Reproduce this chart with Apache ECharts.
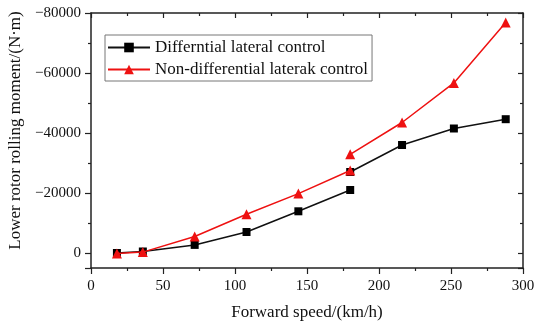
<!DOCTYPE html>
<html>
<head>
<meta charset="utf-8">
<script src="https://cdn.jsdelivr.net/npm/echarts@6/dist/echarts.min.js"></script>
<style>
  html, body { margin: 0; padding: 0; background: #fff; }
  #chart { width: 549px; height: 323px; }
</style>
</head>
<body>
<div id="chart"></div>
<script>
// Forward speed (km/h) and lower rotor rolling moment (N·m).
// A null breaks each line at 180 km/h, where both series have two points.
const diffSpeed = [18, 36, 72, 108, 144, 180, null, 180, 216, 252, 288];
const diffMoment = [0, -500, -2700, -7000, -13900, -21000, null, -27000, -36000, -41500, -44600];
const nonDiffSpeed = [18, 36, 72, 108, 144, 180, null, 180, 216, 252, 288];
const nonDiffMoment = [200, -300, -5500, -12900, -19800, -27500, null, -32900, -43500, -56700, -76800];

const seriesNames = ['Differntial lateral control', 'Non-differential laterak control'];

const font = "'Liberation Serif', serif";
const axisColor = '#222';

function pairs(xs, ys) {
  return xs.map((x, i) => (x === null ? '-' : [x, ys[i]]));
}

const chart = echarts.init(document.getElementById('chart'));

const minus = v => String(v).replace('-', '\u2212');

const lineStyle = { show: true, onZero: false, lineStyle: { color: axisColor, width: 1.5 } };
const tickStyle = { color: axisColor, width: 1.2 };

chart.setOption({
  backgroundColor: '#fff',
  animation: false,
  grid: { left: 91, right: 26, top: 13, bottom: 55, outerBoundsMode: 'none', containLabel: false },
  legend: {
    left: 105,
    top: 35,
    orient: 'vertical',
    itemWidth: 42,
    itemHeight: 12,
    itemGap: 5,
    padding: [4, 4, 3, 2],
    borderColor: '#777',
    borderWidth: 1,
    textStyle: { fontFamily: font, fontSize: 17, color: '#111' },
    data: seriesNames
  },
  xAxis: [
    {
      type: 'value',
      min: 0,
      max: 300,
      interval: 50,
      name: 'Forward speed/(km/h)',
      nameLocation: 'middle',
      nameGap: 36,
      nameTextStyle: { fontFamily: font, fontSize: 17, color: '#111' },
      axisLine: lineStyle,
      axisTick: { show: true, inside: false, length: 6, lineStyle: tickStyle },
      minorTick: { show: true, splitNumber: 2, length: 3, lineStyle: tickStyle },
      axisLabel: { fontFamily: font, fontSize: 15, color: '#111', margin: 11 },
      splitLine: { show: false }
    },
    {
      type: 'value',
      position: 'top',
      min: 0,
      max: 300,
      interval: 50,
      axisLine: lineStyle,
      axisTick: { show: true, inside: true, length: 5, lineStyle: tickStyle },
      minorTick: { show: true, splitNumber: 2, length: 3, lineStyle: tickStyle },
      axisLabel: { show: false },
      splitLine: { show: false }
    }
  ],
  yAxis: [
    {
      type: 'value',
      inverse: true,
      min: -80000,
      max: 5000,
      interval: 20000,
      name: 'Lower rotor rolling moment/(N\u00b7m)',
      nameLocation: 'middle',
      nameGap: 64,
      nameTextStyle: { fontFamily: font, fontSize: 17, color: '#111', padding: [0, 0, 0, 20] },
      axisLine: lineStyle,
      axisTick: { show: true, inside: false, length: 6, lineStyle: tickStyle },
      minorTick: { show: true, splitNumber: 2, length: 3, lineStyle: tickStyle },
      axisLabel: {
        fontFamily: font, fontSize: 15, color: '#111', margin: 10,
        showMaxLabel: false,
        formatter: minus
      },
      splitLine: { show: false }
    },
    {
      type: 'value',
      position: 'right',
      inverse: true,
      min: -80000,
      max: 5000,
      interval: 20000,
      axisLine: lineStyle,
      axisTick: { show: true, inside: true, length: 5, lineStyle: tickStyle },
      minorTick: { show: true, splitNumber: 2, length: 3, lineStyle: tickStyle },
      axisLabel: { show: false },
      splitLine: { show: false }
    }
  ],
  series: [
    {
      name: seriesNames[0],
      type: 'line',
      data: pairs(diffSpeed, diffMoment),
      connectNulls: false,
      symbol: 'rect',
      symbolSize: 8,
      lineStyle: { color: '#111', width: 1.5 },
      itemStyle: { color: '#000' },
      z: 3
    },
    {
      name: seriesNames[1],
      type: 'line',
      data: pairs(nonDiffSpeed, nonDiffMoment),
      connectNulls: false,
      symbol: 'triangle',
      symbolSize: 10,
      lineStyle: { color: '#ee1111', width: 1.5 },
      itemStyle: { color: '#ee1111' },
      z: 4
    }
  ]
});
</script>
</body>
</html>
